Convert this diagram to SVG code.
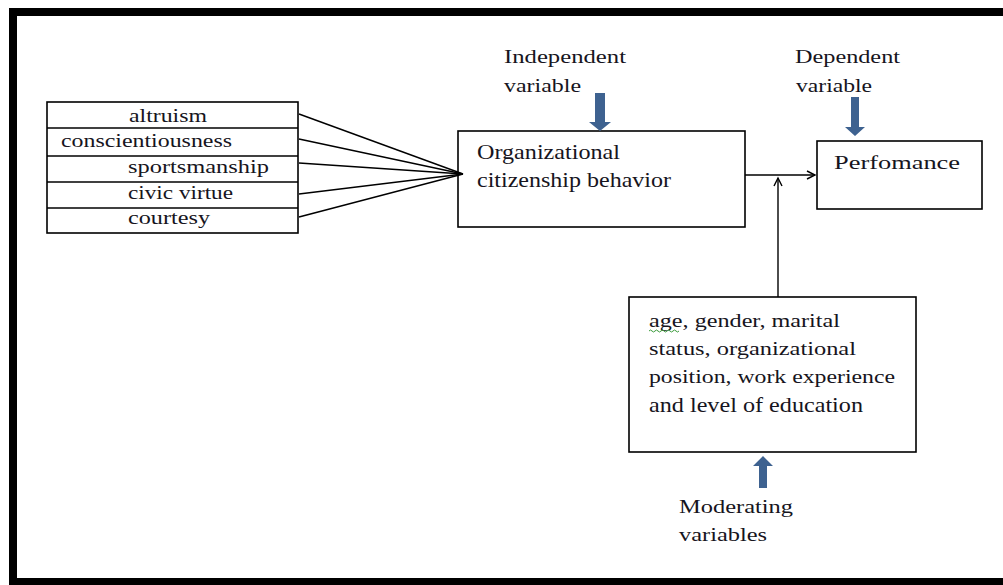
<svg xmlns="http://www.w3.org/2000/svg" width="1003" height="585" viewBox="0 0 1003 585">
<style>
.t{font-family:"Liberation Serif","Times New Roman",serif;fill:#161420;}
.s{font-size:19px;}
.m{font-size:21px;}
.box{fill:#fff;stroke:#000;stroke-width:1.6;}
.ln{stroke:#000;stroke-width:1.4;fill:none;}
.blue{fill:#3e6290;}
</style>
<defs>
<marker id="open" markerWidth="12" markerHeight="12" refX="9" refY="5" orient="auto" markerUnits="userSpaceOnUse">
<path d="M1,1 L9,5 L1,9" fill="none" stroke="#000" stroke-width="1.4"/>
</marker>
</defs>
<rect width="1003" height="585" fill="#fff"/>
<g id="frame">
<rect x="9" y="8" width="994" height="8" fill="#000"/>
<rect x="9" y="8" width="8" height="577" fill="#000"/>
<rect x="9" y="578" width="994" height="7" fill="#000"/>
</g>
<g id="dimensions">
<rect class="box" x="47" y="102" width="251" height="131"/>
<line class="ln" x1="47" y1="128" x2="298" y2="128"/>
<line class="ln" x1="47" y1="156" x2="298" y2="156"/>
<line class="ln" x1="47" y1="182" x2="298" y2="182"/>
<line class="ln" x1="47" y1="208" x2="298" y2="208"/>
<text class="t s" x="129" y="122" textLength="78" lengthAdjust="spacingAndGlyphs">altruism</text>
<text class="t s" x="61" y="147" textLength="171" lengthAdjust="spacingAndGlyphs">conscientiousness</text>
<text class="t s" x="128" y="173" textLength="141" lengthAdjust="spacingAndGlyphs">sportsmanship</text>
<text class="t s" x="128" y="199" textLength="105" lengthAdjust="spacingAndGlyphs">civic virtue</text>
<text class="t s" x="128" y="224" textLength="82" lengthAdjust="spacingAndGlyphs">courtesy</text>
</g>
<g id="ocb">
<rect class="box" x="458" y="131" width="287" height="96"/>
<text class="t m" x="477" y="159" textLength="143" lengthAdjust="spacingAndGlyphs">Organizational</text>
<text class="t m" x="477" y="187" textLength="194" lengthAdjust="spacingAndGlyphs">citizenship behavior</text>
</g>
<g id="performance">
<rect class="box" x="817" y="141" width="165" height="68"/>
<text class="t s" x="834" y="169" textLength="126" lengthAdjust="spacingAndGlyphs">Perfomance</text>
</g>
<g id="moderators">
<rect class="box" x="629" y="297" width="287" height="155"/>
<text class="t s" x="649" y="327" textLength="191" lengthAdjust="spacingAndGlyphs">age, gender, marital</text>
<path d="M649,331 q1.5,-2 3,0 t3,0 t3,0 t3,0 t3,0 t3,0 t3,0 t3,0 t3,0 t3,0" fill="none" stroke="#3a9a3a" stroke-width="1"/>
<text class="t s" x="649" y="355" textLength="207" lengthAdjust="spacingAndGlyphs">status, organizational</text>
<text class="t s" x="649" y="383" textLength="246" lengthAdjust="spacingAndGlyphs">position, work experience</text>
<text class="t m" x="649" y="412" textLength="214" lengthAdjust="spacingAndGlyphs">and level of education</text>
</g>
<g id="labels">
<text class="t s" x="504" y="63" textLength="122" lengthAdjust="spacingAndGlyphs">Independent</text>
<text class="t s" x="504" y="92" textLength="77" lengthAdjust="spacingAndGlyphs">variable</text>
<text class="t s" x="795" y="63" textLength="105" lengthAdjust="spacingAndGlyphs">Dependent</text>
<text class="t s" x="796" y="92" textLength="76" lengthAdjust="spacingAndGlyphs">variable</text>
<text class="t s" x="679" y="513" textLength="114" lengthAdjust="spacingAndGlyphs">Moderating</text>
<text class="t s" x="679" y="541" textLength="88" lengthAdjust="spacingAndGlyphs">variables</text>
</g>
<g id="blue-arrows">
<path class="blue" d="M595,93 L605,93 L605,122 L611,122 L600,131 L589,122 L595,122 Z"/>
<path class="blue" d="M851,97 L859,97 L859,127 L865,127 L855,136 L845,127 L851,127 Z"/>
<path class="blue" d="M759,488 L767,488 L767,466 L773,466 L763,456 L753,466 L759,466 Z"/>
</g>
<g id="connectors">
<line class="ln" x1="299" y1="114" x2="463" y2="174"/>
<line class="ln" x1="299" y1="139" x2="463" y2="174"/>
<line class="ln" x1="299" y1="163" x2="463" y2="174"/>
<line class="ln" x1="299" y1="194" x2="463" y2="174"/>
<line class="ln" x1="299" y1="217" x2="463" y2="174"/>
<line class="ln" x1="745" y1="175" x2="815" y2="175" marker-end="url(#open)"/>
<line class="ln" x1="778" y1="297" x2="778" y2="178" marker-end="url(#open)"/>
</g>
</svg>
